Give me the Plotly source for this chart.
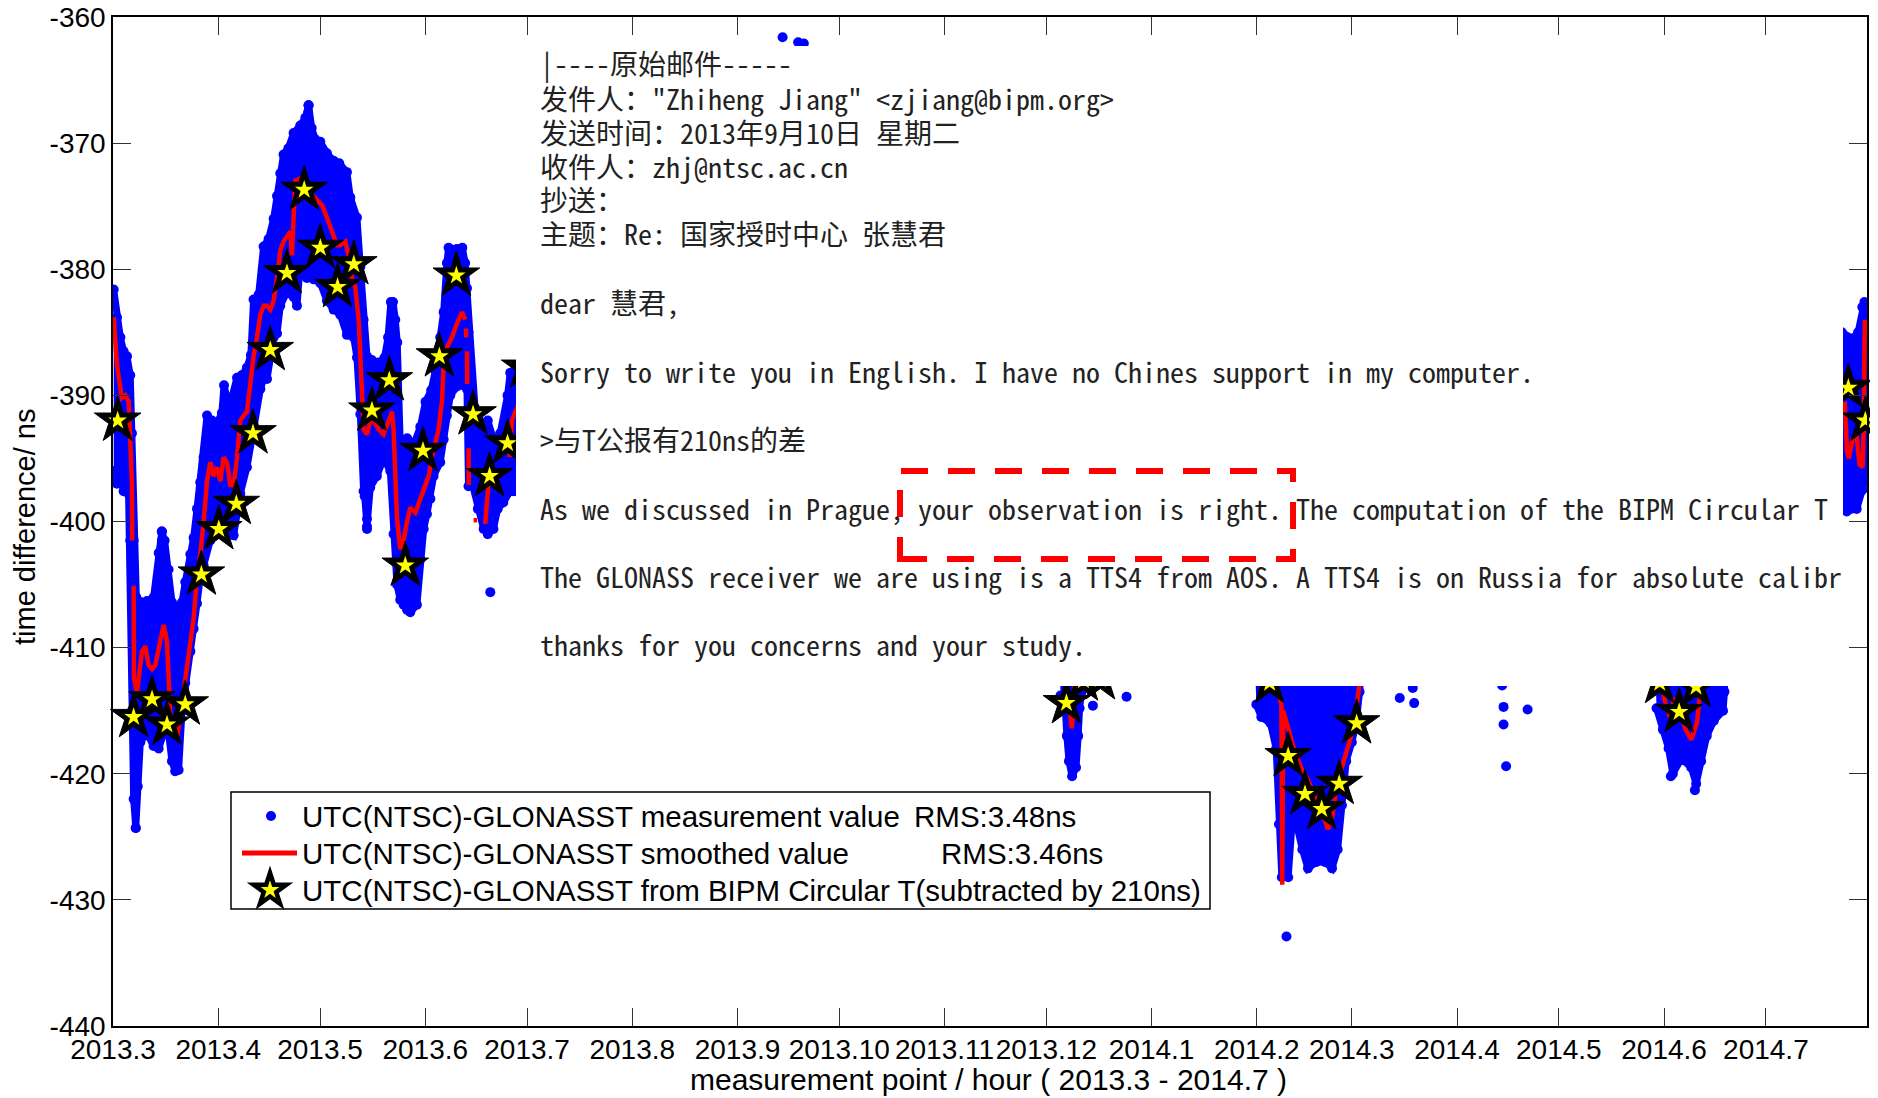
import plotly.graph_objects as go

# ---------------- axis ticks ----------------
tick_hours = [0, 744, 1464, 2208, 2928, 3672, 4416, 5136, 5880, 6600,
              7344, 8088, 8760, 9504, 10224, 10968, 11688]
tick_labels = ["2013.3", "2013.4", "2013.5", "2013.6", "2013.7", "2013.8",
               "2013.9", "2013.10", "2013.11", "2013.12", "2014.1", "2014.2",
               "2014.3", "2014.4", "2014.5", "2014.6", "2014.7"]
y_tick_vals = [-440, -430, -420, -410, -400, -390, -380, -370, -360]
y_tick_labels = ["-440", "-430", "-420", "-410", "-400", "-390", "-380", "-370", "-360"]

meas_a_top_hours = [5, 28, 52, 75, 99, 122, 134, 146, 165, 200,
                    240, 287, 323, 345, 365, 393, 417, 452, 488, 511,
                    547, 570, 594, 617, 641, 665, 700, 735, 770, 785,
                    806, 840, 877, 910, 947, 975, 994, 1030, 1065, 1100,
                    1136, 1160, 1183, 1206, 1240, 1277, 1324, 1360, 1383, 1405,
                    1430, 1466, 1513, 1560, 1600, 1654, 1678, 1725, 1749, 1772,
                    1796, 1830, 1880, 1920, 1945, 1965, 1980, 1996, 2010, 2031,
                    2080, 2130, 2173, 2210, 2250, 2280, 2314, 2338, 2361, 2373,
                    2432, 2470, 2490, 2503, 2514, 2560, 2621, 2650, 2691, 2738,
                    2790, 2809, 2920]
meas_a_top_ns = [-381.6, -383.8, -385.4, -386.5, -386.9, -388.4, -393.0, -401.5, -406.0, -406.4,
                 -406.3, -406.0, -402.5, -400.8, -401.5, -403.8, -406.4, -406.8, -406.4, -404.8,
                 -402.6, -401.3, -399.0, -396.9, -394.9, -391.6, -392.0, -392.2, -391.4, -389.2,
                 -390.2, -390.2, -388.6, -388.4, -387.8, -386.8, -382.4, -382.0, -378.2, -377.6,
                 -376.0, -374.2, -372.4, -370.9, -370.4, -369.2, -368.6, -368.0, -367.0, -368.8,
                 -369.7, -369.9, -370.8, -371.4, -371.6, -372.3, -374.3, -375.9, -379.8, -384.0,
                 -386.9, -387.2, -387.4, -387.0, -385.4, -382.6, -382.6, -384.0, -385.8, -393.8,
                 -393.4, -393.8, -392.5, -390.5, -389.6, -388.0, -385.4, -383.4, -379.5, -378.3,
                 -378.4, -378.3, -379.5, -381.5, -385.0, -391.0, -392.5, -392.0, -393.5, -393.0,
                 -390.0, -388.2, -387.0]
meas_a_bottom_hours = [5, 28, 52, 75, 99, 110, 122, 134, 146, 161,
                       175, 193, 240, 287, 323, 358, 393, 417, 440, 464,
                       488, 511, 547, 570, 594, 617, 641, 688, 711, 759,
                       806, 853, 877, 900, 947, 994, 1042, 1065, 1089, 1136,
                       1160, 1183, 1230, 1277, 1301, 1324, 1371, 1419, 1466, 1513,
                       1560, 1607, 1654, 1702, 1725, 1749, 1772, 1780, 1796, 1819,
                       1866, 1913, 1961, 1984, 2008, 2031, 2055, 2079, 2102, 2149,
                       2173, 2197, 2220, 2244, 2267, 2314, 2338, 2361, 2385, 2432,
                       2479, 2503, 2514, 2540, 2580, 2621, 2650, 2690, 2720, 2760,
                       2809, 2833, 2920]
meas_a_bottom_ns = [-396.0, -397.0, -396.4, -397.6, -397.2, -397.8, -401.5, -415.0, -422.0, -424.3,
                    -421.0, -417.5, -416.8, -417.8, -418.0, -416.8, -416.8, -419.0, -419.8, -419.7,
                    -415.0, -412.8, -410.3, -408.5, -406.5, -404.4, -403.5, -401.5, -401.0, -401.0,
                    -400.8, -401.1, -399.3, -397.8, -395.7, -392.7, -389.5, -388.7, -388.7, -385.4,
                    -385.1, -382.9, -381.8, -382.2, -382.9, -379.6, -380.7, -380.8, -381.1, -382.5,
                    -383.2, -383.6, -385.2, -385.4, -387.0, -391.5, -397.6, -398.0, -400.4, -397.3,
                    -396.4, -395.0, -396.0, -401.0, -405.0, -406.2, -406.6, -407.0, -407.2, -406.6,
                    -403.0, -400.6, -399.4, -398.2, -396.4, -395.3, -393.5, -391.6, -390.0, -389.3,
                    -389.2, -389.5, -397.2, -397.0, -399.0, -400.6, -401.0, -400.6, -399.0, -398.5,
                    -397.6, -397.6, -398.0]

meas_b_hours = [6695, 6855, 6850, 6835, 6825, 6810, 6782, 6760, 6745, 6735, 6700]
meas_b_ns = [-411.0, -411.0, -413.5, -414.8, -417.0, -419.5, -420.2, -419.0, -417.0, -415.0, -413.8]

meas_c_hours = [8075, 8830, 8815, 8790, 8760, 8720, 8690, 8660, 8620, 8570, 8510,
                8450, 8410, 8370, 8340, 8310, 8265, 8245, 8225, 8185, 8120, 8085]
meas_c_ns = [-411.0, -411.0, -413.5, -416.0, -417.5, -419.0, -422.5, -426.0, -427.5, -427.0, -427.0,
             -427.5, -426.0, -424.0, -423.5, -428.2, -428.2, -424.0, -418.0, -416.0, -415.5, -414.5]

meas_d_hours = [10905, 11400, 11395, 11385, 11320, 11270, 11230, 11195, 11160, 11090, 11030, 11000, 10960, 10915]
meas_d_ns = [-411.0, -411.0, -413.5, -415.0, -415.8, -417.0, -419.0, -420.8, -419.5, -418.8, -420.0, -418.0, -416.5, -414.8]

meas_e_hours = [12225, 12300, 12340, 12370, 12385, 12398, 12400, 12395, 12370, 12330, 12260, 12225]
meas_e_ns = [-385.0, -385.5, -385.0, -383.0, -382.6, -384.0, -390.0, -396.5, -397.5, -399.0, -399.2, -398.0]

meas_dot_hours = [161, 346, 346, 1380, 1383, 1796, 1796, 2668, 4735, 4845, 4885, 6929,
                  7167, 8298, 9099, 9191, 9201, 9823, 9833, 9833, 9851, 10003, 11016, 11186]
meas_dot_ns = [-424.3, -400.8, -401.5, -367.6, -367.0, -399.8, -400.6, -405.6, -361.6, -362.0, -362.1, -414.6,
               -413.9, -432.9, -414.0, -413.2, -414.4, -413.0, -414.7, -416.1, -419.4, -414.9, -420.2, -421.3]

# ---------------- smoothed value (segments, gaps between) ----------------
smooth_seg_hours = [
    [5, 28, 63, 87, 111, 122, 134, 136],
    [146, 148, 170, 188, 205, 229, 252, 276, 299, 334,
     358, 382, 393, 405, 429, 452, 476, 511, 547, 570,
     594, 617, 641, 665, 688, 711, 735, 759, 782, 806,
     829, 853, 877, 900, 924, 947, 971, 994, 1018, 1042,
     1065, 1089, 1112, 1136, 1160, 1183, 1206, 1230, 1254, 1265,
     1277, 1289, 1324, 1360, 1395, 1442, 1478, 1513, 1537, 1560,
     1584, 1607, 1643, 1666, 1690, 1713, 1737, 1749, 1761, 1772,
     1796, 1819, 1843, 1878, 1913, 1949, 1973, 1984, 1996, 2008,
     2031, 2055, 2079, 2102, 2138, 2173, 2208, 2232, 2255, 2279,
     2302, 2326, 2338, 2361, 2397, 2432, 2468, 2491],
    [2496, 2498],
    [2503, 2505],
    [2514, 2516],
    [2550, 2575],
    [2632, 2644, 2656],
    [2804, 2821, 2844, 2900],
    [6730, 6750, 6765, 6780, 6792, 6800],
    [8200, 8240, 8262, 8268, 8275, 8300, 8350, 8400, 8450, 8500, 8550, 8590, 8620, 8655, 8714, 8774, 8813],
    [10950, 10980, 11010, 11040, 11080, 11120, 11160, 11200, 11230],
    [12245, 12262, 12275, 12300, 12330, 12350, 12372, 12380, 12385, 12388],
]
smooth_seg_ns = [
    [-383.8, -387.6, -390.2, -390.0, -390.5, -393.5, -397.1, -401.5],
    [-405.1, -412.4, -413.5, -411.7, -410.3, -409.9, -411.4, -411.7, -411.4, -409.5,
     -408.2, -409.5, -412.4, -415.4, -416.8, -417.2, -415.4, -412.4, -409.9, -407.7,
     -404.4, -402.6, -400.0, -396.8, -395.3, -396.4, -395.7, -396.8, -394.9, -395.3,
     -397.1, -397.1, -394.9, -392.0, -391.6, -391.3, -389.1, -386.9, -385.4, -383.6,
     -382.9, -382.9, -383.2, -382.5, -380.7, -378.5, -377.8, -377.4, -377.0, -378.9,
     -375.9, -373.0, -372.8, -373.4, -373.9, -374.5, -374.9, -375.9, -376.7, -377.4,
     -378.1, -378.1, -377.8, -378.9, -380.7, -381.4, -384.0, -386.9, -389.8, -392.7,
     -393.1, -392.0, -392.0, -392.7, -393.1, -392.0, -391.3, -392.7, -396.8, -399.7,
     -402.2, -401.5, -400.0, -398.9, -399.3, -398.2, -397.1, -396.4, -394.9, -393.8,
     -392.7, -390.5, -387.6, -386.2, -385.4, -384.3, -383.4, -384.0],
    [-384.7, -385.4],
    [-386.5, -389.1],
    [-394.2, -397.1],
    [-399.9, -399.9],
    [-400.2, -397.8, -396.8],
    [-394.9, -392.0, -391.3, -390.0],
    [-412.5, -413.5, -414.8, -416.4, -415.0, -412.5],
    [-412.8, -413.5, -414.5, -428.8, -415.0, -416.0, -418.0, -419.5, -420.5, -421.8, -423.0, -424.4, -423.5, -420.8, -418.6, -416.3, -413.0],
    [-413.0, -414.5, -415.5, -414.0, -415.0, -416.5, -417.3, -416.0, -413.0],
    [-390.5, -394.5, -395.0, -393.5, -393.2, -395.5, -395.7, -392.5, -386.5, -384.0],
]

# ---------------- BIPM Circular T values (subtracted by 210 ns) ----------------
bipm_hours = [33, 146, 276, 382, 511, 625, 748, 872, 990, 1112,
              1230, 1352, 1466, 1588, 1703, 1831, 1954, 2067, 2192, 2308,
              2428, 2546, 2663, 2790, 2911, 6742, 6862, 6982, 8179, 8310,
              8429, 8547, 8671, 8794, 10937, 11075, 11194, 12271, 12391]
bipm_ns = [-392.0, -415.5, -414.1, -416.1, -414.5, -404.2, -400.6, -398.6, -393.0, -386.4,
           -380.3, -373.7, -378.3, -381.4, -379.6, -391.2, -388.8, -403.5, -394.4, -386.9,
           -380.5, -391.5, -396.4, -393.8, -387.8, -414.4, -412.6, -412.5, -412.8, -418.6,
           -421.6, -422.8, -420.8, -416.0, -412.8, -415.1, -413.1, -389.4, -392.0]

# ---------------- texts ----------------
legend_texts = ["UTC(NTSC)-GLONASST measurement value",
                "UTC(NTSC)-GLONASST smoothed value",
                "UTC(NTSC)-GLONASST from BIPM Circular T(subtracted by 210ns)"]
legend_rms = ["RMS:3.48ns", "RMS:3.46ns"]

email_lines = [
    "|----原始邮件-----",
    "发件人：\"Zhiheng Jiang\" &lt;zjiang@bipm.org&gt;",
    "发送时间：2013年9月10日 星期二",
    "收件人：zhj@ntsc.ac.cn",
    "抄送：",
    "主题：Re: 国家授时中心 张慧君",
    "dear 慧君,",
    "Sorry to write you in English. I have no Chines support in my computer.",
    "&gt;与T公报有210ns的差",
    "As we discussed in Prague, your observation is right. The computation of the BIPM Circular T",
    "The GLONASS receiver we are using is a TTS4 from AOS. A TTS4 is on Russia for absolute calibr",
    "thanks for you concerns and your study.",
]
email_line_px = [63, 98, 132, 166, 199, 233, 302, 371, 439, 508, 576, 644]

# ---------------- geometry (page pixels; page body has an 8px margin) ----------------
PAGE_W, PAGE_H, BODY = 1878, 1098, 8
W, H = PAGE_W - BODY, PAGE_H - BODY
PL, PR, PT, PB = 113, 1867, 17, 1026
X_MAX = 12403


def fx(px):
    return (px - PL) / (PR - PL)


def fy(py):
    return (PB - py) / (PB - PT)


BLUE, RED, YEL = "#0000FF", "#FF0000", "#FFFF00"
AX_FONT = "Liberation Sans, Arial, sans-serif"
MAIL_FONT = "Noto Sans Mono CJK SC, Noto Sans CJK SC, Liberation Mono, monospace"

fig = go.Figure()

# measurement cloud
clouds = [
    (meas_a_top_hours + meas_a_bottom_hours[::-1], meas_a_top_ns + meas_a_bottom_ns[::-1]),
    (meas_b_hours, meas_b_ns),
    (meas_c_hours, meas_c_ns),
    (meas_d_hours, meas_d_ns),
    (meas_e_hours, meas_e_ns),
]
for hx, ny in clouds:
    fig.add_trace(go.Scatter(x=hx, y=ny, mode="lines+markers", fill="toself",
                             fillcolor=BLUE, line=dict(color=BLUE, width=7),
                             marker=dict(color=BLUE, size=10),
                             name="UTC(NTSC)-GLONASST measurement value",
                             showlegend=False, hoverinfo="skip"))
fig.add_trace(go.Scatter(x=meas_dot_hours, y=meas_dot_ns, mode="markers",
                         marker=dict(color=BLUE, size=10), showlegend=False,
                         cliponaxis=False, hoverinfo="skip"))

# smoothed line
sx, sy = [], []
for hs, ns in zip(smooth_seg_hours, smooth_seg_ns):
    if sx:
        sx.append(None)
        sy.append(None)
    sx += hs
    sy += ns
fig.add_trace(go.Scatter(x=sx, y=sy, mode="lines", line=dict(color=RED, width=4.5),
                         connectgaps=False, name="UTC(NTSC)-GLONASST smoothed value",
                         showlegend=False, hoverinfo="skip"))

# BIPM stars (black body, yellow core)
fig.add_trace(go.Scatter(x=bipm_hours, y=bipm_ns, mode="markers",
                         marker=dict(symbol="star", size=35, color="black",
                                     line=dict(color="black", width=1)),
                         showlegend=False, cliponaxis=False, hoverinfo="skip"))
fig.add_trace(go.Scatter(x=bipm_hours, y=bipm_ns, mode="markers",
                         marker=dict(symbol="star", size=14, color=YEL,
                                     line=dict(width=0)),
                         name="UTC(NTSC)-GLONASST from BIPM Circular T",
                         showlegend=False, cliponaxis=False, hoverinfo="skip"))

# legend symbols on an overlay axis in plot-fraction units
fig.add_trace(go.Scatter(x=[fx(271)], y=[fy(816)], mode="markers", xaxis="x2", yaxis="y2",
                         marker=dict(color=BLUE, size=10), showlegend=False, hoverinfo="skip"))
fig.add_trace(go.Scatter(x=[fx(242), fx(297)], y=[fy(853), fy(853)], mode="lines",
                         xaxis="x2", yaxis="y2", line=dict(color=RED, width=5),
                         showlegend=False, hoverinfo="skip"))
fig.add_trace(go.Scatter(x=[fx(270)], y=[fy(890)], mode="markers", xaxis="x2", yaxis="y2",
                         marker=dict(symbol="star", size=35, color="black"),
                         showlegend=False, hoverinfo="skip"))
fig.add_trace(go.Scatter(x=[fx(270)], y=[fy(890)], mode="markers", xaxis="x2", yaxis="y2",
                         marker=dict(symbol="star", size=14, color=YEL, line=dict(width=0)),
                         showlegend=False, hoverinfo="skip"))

shapes = [
    # white pasted e-mail area
    dict(type="rect", xref="paper", yref="paper", x0=fx(516), x1=fx(1843),
         y0=fy(686), y1=fy(46), fillcolor="white", line=dict(width=0), layer="above"),
    # red dashed highlight
    dict(type="rect", xref="paper", yref="paper", x0=fx(900), x1=fx(1293),
         y0=fy(559), y1=fy(471), fillcolor="rgba(0,0,0,0)",
         line=dict(color=RED, width=6, dash="27px,20px"), layer="above"),
    # legend box
    dict(type="rect", xref="paper", yref="paper", x0=fx(231), x1=fx(1210),
         y0=fy(909), y1=fy(792), fillcolor="white",
         line=dict(color="black", width=1.5), layer="below"),
]

annotations = []
for txt, py in zip(email_lines, email_line_px):
    annotations.append(dict(xref="paper", yref="paper", x=fx(538), y=fy(py), text=txt,
                            showarrow=False, xanchor="left", yanchor="middle",
                            font=dict(family=MAIL_FONT, size=28, color="#222222")))
for txt, py in zip(legend_texts, [816, 853, 890]):
    annotations.append(dict(xref="paper", yref="paper", x=fx(300), y=fy(py), text=txt,
                            showarrow=False, xanchor="left", yanchor="middle",
                            font=dict(family=AX_FONT, size=29.5, color="black")))
for txt, px, py in zip(legend_rms, [912, 939], [816, 853]):
    annotations.append(dict(xref="paper", yref="paper", x=fx(px), y=fy(py), text=txt,
                            showarrow=False, xanchor="left", yanchor="middle",
                            font=dict(family=AX_FONT, size=29.5, color="black")))
annotations.append(dict(xref="paper", yref="paper", x=fx(988), y=fy(1079),
                        text="measurement point / hour ( 2013.3 - 2014.7 )",
                        showarrow=False, xanchor="center", yanchor="middle",
                        font=dict(family=AX_FONT, size=30, color="black")))
annotations.append(dict(xref="paper", yref="paper", x=fx(25), y=fy(527),
                        text="time difference/ ns", textangle=-90,
                        showarrow=False, xanchor="center", yanchor="middle",
                        font=dict(family=AX_FONT, size=29, color="black")))

fig.update_layout(
    width=W, height=H, autosize=False,
    margin=dict(l=PL - BODY, r=PAGE_W - PR, t=PT - BODY, b=PAGE_H - PB, pad=0),
    paper_bgcolor="white", plot_bgcolor="white",
    showlegend=False,
    shapes=shapes, annotations=annotations,
    xaxis=dict(range=[0, X_MAX], tickmode="array", tickvals=tick_hours, ticktext=tick_labels,
               tickangle=0, ticks="inside", ticklen=18, tickwidth=1, tickcolor="#333333",
               ticklabelstandoff=-2, ticklabeloverflow="allow",
               showline=True, linecolor="black", linewidth=1.5, mirror="ticks",
               showgrid=False, zeroline=False, automargin=False,
               tickfont=dict(family=AX_FONT, size=28, color="black")),
    yaxis=dict(range=[-440, -360], tickmode="array", tickvals=y_tick_vals, ticktext=y_tick_labels,
               ticks="inside", ticklen=18, tickwidth=1, tickcolor="#333333",
               ticklabeloverflow="allow",
               showline=True, linecolor="black", linewidth=1.5, mirror="ticks",
               showgrid=False, zeroline=False, automargin=False,
               tickfont=dict(family=AX_FONT, size=28, color="black")),
    xaxis2=dict(overlaying="x", range=[0, 1], visible=False, fixedrange=True),
    yaxis2=dict(overlaying="y", range=[0, 1], visible=False, fixedrange=True),
)

fig.write_html("out.html")
